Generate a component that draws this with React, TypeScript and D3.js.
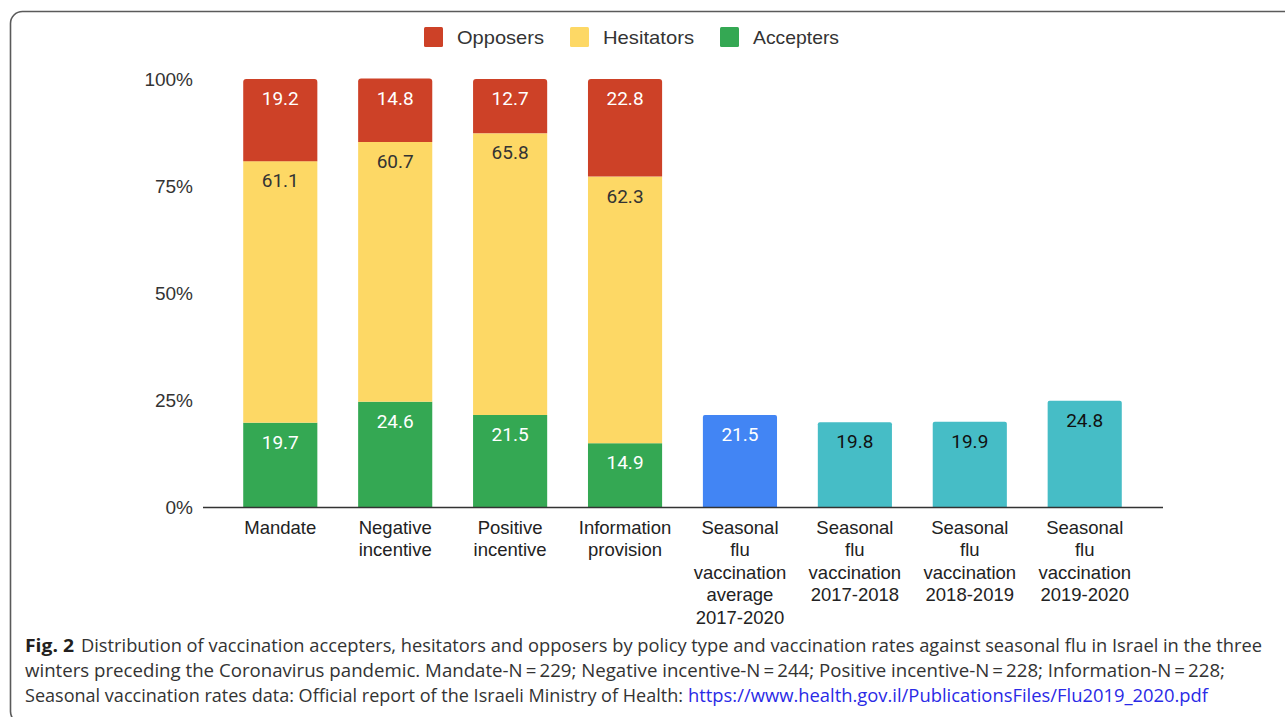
import * as React from 'react'
import * as d3 from 'd3'

const categories = [
  'Mandate',
  'Negative incentive',
  'Positive incentive',
  'Information provision',
  'Seasonal flu vaccination average 2017-2020',
  'Seasonal flu vaccination 2017-2018',
  'Seasonal flu vaccination 2018-2019',
  'Seasonal flu vaccination 2019-2020',
]
const categoryLines = [
  ['Mandate'],
  ['Negative', 'incentive'],
  ['Positive', 'incentive'],
  ['Information', 'provision'],
  ['Seasonal', 'flu', 'vaccination', 'average', '2017-2020'],
  ['Seasonal', 'flu', 'vaccination', '2017-2018'],
  ['Seasonal', 'flu', 'vaccination', '2018-2019'],
  ['Seasonal', 'flu', 'vaccination', '2019-2020'],
]

// policy groups (stacked, in %)
const accepters = [19.7, 24.6, 21.5, 14.9]
const hesitators = [61.1, 60.7, 65.8, 62.3]
const opposers = [19.2, 14.8, 12.7, 22.8]

// seasonal flu vaccination rates (%)
const fluRates = [21.5, 19.8, 19.9, 24.8]

const yTicks = [0, 25, 50, 75, 100]

const series = [
  { name: 'Accepters', values: accepters, color: '#34a853', text: '#ffffff' },
  { name: 'Hesitators', values: hesitators, color: '#fdd865', text: '#333333' },
  { name: 'Opposers', values: opposers, color: '#cd4127', text: '#ffffff' },
]
const legendItems = [
  { name: 'Opposers', color: '#cd4127' },
  { name: 'Hesitators', color: '#fdd865' },
  { name: 'Accepters', color: '#34a853' },
]
const fluColors = ['#4285f4', '#46bdc6', '#46bdc6', '#46bdc6']
const fluText = ['#ffffff', '#111111', '#111111', '#111111']

const W = 1285
const H = 717
const sans = '"Liberation Sans", Arial, sans-serif'
const numFont = 'Roboto, "Liberation Sans", sans-serif'
const capFont = '"Open Sans", "Noto Sans", sans-serif'

function topRounded(x: number, y: number, w: number, h: number, r: number) {
  return `M${x},${y + h}V${y + r}Q${x},${y} ${x + r},${y}H${x + w - r}Q${x + w},${y} ${x + w},${y + r}V${y + h}Z`
}

export default function App() {
  const x = d3.scaleBand<string>()
    .domain(categories)
    .range([203, 1162])
    .paddingInner(0.355)
    .paddingOuter(0.35)
  const y = d3.scaleLinear().domain([0, 100]).range([507, 79])
  const bw = x.bandwidth()

  const stack = d3.stack<number>()
    .keys(series.map((_, i) => String(i)))
    .value((i, k) => series[+k].values[i])
  const stacked = stack(d3.range(accepters.length))

  // legend layout
  const legendX = [424, 570, 720]
  const legendW = [87, 91, 86]

  return (
    <svg width={W} height={H} style={{ position: 'absolute', left: 0, top: 0, background: '#fff' }}>
      <rect x={10.5} y={11.5} width={1320} height={712} rx={12} fill="#fff" stroke="#5a5a5a" strokeWidth={1.6} />

      {/* legend */}
      {legendItems.map((d, i) => (
        <g key={d.name}>
          <rect x={legendX[i]} y={27} width={19} height={20} rx={1.5} fill={d.color} />
          <text x={legendX[i] + 33} y={44} fontFamily={sans} fontSize={19} fill="#333"
            textLength={legendW[i]} lengthAdjust="spacingAndGlyphs">{d.name}</text>
        </g>
      ))}

      {/* y axis labels */}
      {yTicks.map(t => (
        <text key={t} x={193} y={y(t) + 7} textAnchor="end" fontFamily={sans} fontSize={19} fill="#333">{t}%</text>
      ))}

      {/* stacked bars */}
      {stacked.map((layer, si) => layer.map((seg, i) => {
        const cat = categories[i]
        const x0 = x(cat)!
        const top = y(seg[1])
        const h = y(seg[0]) - top
        const isTop = si === stacked.length - 1
        return (
          <g key={`${si}-${i}`}>
            {isTop
              ? <path d={topRounded(x0, top, bw, h, 3)} fill={series[si].color} />
              : <rect x={x0} y={top} width={bw} height={h} fill={series[si].color} />}
            <text x={x0 + bw / 2} y={top + 26} textAnchor="middle" fontFamily={numFont} fontSize={19} fill={series[si].text}>
              {series[si].values[i].toFixed(1)}
            </text>
          </g>
        )
      }))}

      {/* flu bars */}
      {fluRates.map((v, i) => {
        const cat = categories[4 + i]
        const x0 = x(cat)!
        const top = y(v)
        return (
          <g key={cat}>
            <path d={topRounded(x0, top, bw, y(0) - top, 2)} fill={fluColors[i]} />
            <text x={x0 + bw / 2} y={top + 26} textAnchor="middle" fontFamily={numFont} fontSize={19} fill={fluText[i]}>
              {v.toFixed(1)}
            </text>
          </g>
        )
      })}

      {/* x axis */}
      <line x1={203} x2={1163} y1={507.5} y2={507.5} stroke="#333" strokeWidth={1.6} />
      {categories.map((c, i) => (
        <text key={c} textAnchor="middle" fontFamily={sans} fontSize={18.5} fill="#222">
          {categoryLines[i].map((l, j) => (
            <tspan key={j} x={x(c)! + bw / 2} y={533.5 + j * 22.6}>{l}</tspan>
          ))}
        </text>
      ))}

      {/* caption */}
      <g fontFamily={capFont} fontSize={18} fill="#333">
        <text x={25} y={652} fontWeight="bold" fill="#231f20" textLength={49} lengthAdjust="spacingAndGlyphs">Fig. 2</text>
        <text x={81} y={652} textLength={1181} lengthAdjust="spacingAndGlyphs">
          Distribution of vaccination accepters, hesitators and opposers by policy type and vaccination rates against seasonal flu in Israel in the three
        </text>
        <text x={25} y={677} textLength={1200} lengthAdjust="spacingAndGlyphs">
          {'winters preceding the Coronavirus pandemic. Mandate-N\u2009=\u2009229; Negative incentive-N\u2009=\u2009244; Positive incentive-N\u2009=\u2009228; Information-N\u2009=\u2009228;'}
        </text>
        <text x={25} y={702} textLength={658} lengthAdjust="spacingAndGlyphs">
          Seasonal vaccination rates data: Official report of the Israeli Ministry of Health:
        </text>
        <text x={688} y={702} textLength={520} lengthAdjust="spacingAndGlyphs" fill="#2a2ae6">
          https://www.health.gov.il/PublicationsFiles/Flu2019_2020.pdf
        </text>
      </g>
    </svg>
  )
}
